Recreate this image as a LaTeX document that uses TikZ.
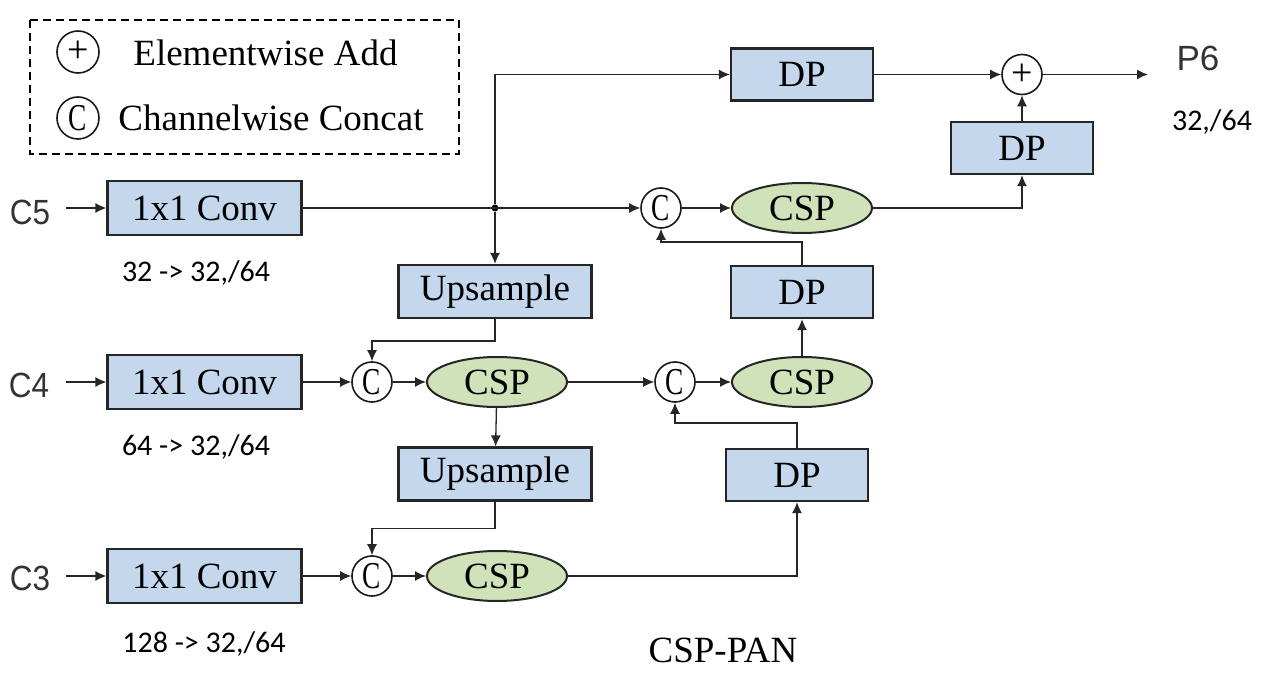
\documentclass[tikz,border=0pt]{standalone}
\usepackage{fontspec}
\setmainfont{Liberation Serif}
\newfontfamily\carl{Carlito}
\newfontfamily\arialf{Liberation Sans}
\usetikzlibrary{shapes.geometric,arrows.meta}
\definecolor{boxblue}{RGB}{196,215,237}
\definecolor{cspgreen}{RGB}{207,226,186}
\newcommand{\cglyph}{\scalebox{0.72}[1]{C}}
\newcommand{\narrowlab}[1]{\scalebox{0.9}[1]{#1}}
\tikzset{
  blk/.style={draw=black!85, line width=1.1pt, fill=boxblue, inner sep=0pt, font=\fontsize{18.5}{22}\selectfont},
  convbox/.style={blk, minimum width=97pt, minimum height=27pt},
  dpbox/.style={blk, minimum width=71pt, minimum height=26pt},
  upbox/.style={blk, minimum width=96.5pt, minimum height=26.5pt},
  cspnode/.style={ellipse, draw=black!85, line width=1pt, fill=cspgreen, inner sep=0pt, minimum width=70pt, minimum height=25pt, font=\fontsize{18.5}{22}\selectfont},
  opcirc/.style={circle, draw=black!90, line width=0.8pt, fill=white, inner sep=0pt, minimum size=20pt, font=\fontsize{19}{20}\selectfont},
  arr/.style={-{Latex[length=5.5pt,width=5pt]}, line width=0.65pt, draw=black!85},
  inlab/.style={font=\arialf\fontsize{17.5}{20}\selectfont, text=black!80},
  dimlab/.style={font=\carl\fontsize{15}{18}\selectfont},
  serlab/.style={font=\fontsize{18.5}{22}\selectfont}
}
\begin{document}
\begin{tikzpicture}[x=0.5pt,y=-0.5pt]
\useasboundingbox (0,0) rectangle (1271,679);
% legend
\draw[line width=0.8pt, dash pattern=on 4pt off 2.5pt] (30,20) rectangle (459,154);
\node[opcirc, minimum size=21pt] (lplus) at (78,52) {+};
\node[opcirc, minimum size=21pt] (lconc) at (78,118) {\cglyph};
\node[serlab, anchor=west, inner sep=0pt] (ladd) at (133,53) {Elementwise Add};
\node[serlab, anchor=west, inner sep=0pt] (lcat) at (118,118) {Channelwise Concat};

% inputs
\node[inlab] (c5l) at (30,212) {\narrowlab{C5}};
\node[inlab] (c4l) at (29,385) {\narrowlab{C4}};
\node[inlab] (c3l) at (30,578) {\narrowlab{C3}};
\coordinate (in5) at (66,208);
\coordinate (in4) at (66,382);
\coordinate (in3) at (66,576);

% conv boxes
\node[convbox] (conv5) at (204.5,208) {1x1 Conv};
\node[convbox] (conv4) at (204.5,382) {1x1 Conv};
\node[convbox] (conv3) at (204.5,576) {1x1 Conv};
\node[dimlab] (d5) at (196,273) {32 -> 32,/64};
\node[dimlab] (d4) at (196,447) {64 -> 32,/64};
\node[dimlab] (d3) at (204,644) {128 -> 32,/64};

% upsample
\node[upbox] (up1) at (495,291.5) {Upsample};
\node[upbox] (up2) at (495,474) {Upsample};

% concats and csps
\node[opcirc] (c4c) at (372,382) {\cglyph};
\node[opcirc] (c3c) at (372,576) {\cglyph};
\node[cspnode] (csp4) at (497,382) {CSP};
\node[cspnode] (csp3) at (497,576) {CSP};
\node[opcirc] (cM) at (675,382) {\cglyph};
\node[opcirc] (cT) at (661,208) {\cglyph};
\node[cspnode] (cspM) at (802,382) {CSP};
\node[cspnode] (cspT) at (802,208) {CSP};

% DPs
\node[dpbox] (dpT) at (802,74.5) {DP};
\node[dpbox] (dpR) at (1022,148) {DP};
\node[dpbox] (dpM) at (802,292) {DP};
\node[dpbox] (dpL) at (797,475) {DP};

% add
\node[opcirc] (plus) at (1022,74.5) {+};
\coordinate (out) at (1148,74.5);
\node[inlab] (p6) at (1198,58) {P6};
\node[dimlab] (p6d) at (1212,122) {32,/64};
\node[serlab] (title) at (723,650) {CSP-PAN};

% junction
\node[circle, fill=black, inner sep=0pt, minimum size=3.5pt] (j) at (495,208) {};

% connectors
\draw[arr] (in5) -- (conv5);
\draw[arr] (in4) -- (conv4);
\draw[arr] (in3) -- (conv3);
\draw[arr] (conv5) -- (cT);
\draw[arr] (j) |- (dpT);
\draw[arr] (j) -- (up1);
\draw[arr] (up1.south) -- ++(0,22) -| (c4c);
\draw[arr] (conv4) -- (c4c);
\draw[arr] (c4c) -- (csp4);
\draw[arr] (csp4) -- (cM);
\draw[arr] (cM) -- (cspM);
\draw[arr] (csp4) -- (up2);
\draw[arr] (up2.south) -- ++(0,27) -| (c3c);
\draw[arr] (conv3) -- (c3c);
\draw[arr] (c3c) -- (csp3);
\draw[arr] (csp3.east) -| (dpL.south);
\draw[arr] (dpL.north) -- ++(0,-25) -| (cM);
\draw[arr] (cspM) -- (dpM);
\draw[arr] (dpM.north) -- ++(0,-23) -| (cT);
\draw[arr] (cT) -- (cspT);
\draw[arr] (cspT.east) -| (dpR.south);
\draw[arr] (dpR) -- (plus);
\draw[arr] (dpT) -- (plus);
\draw[arr] (plus) -- (out);
\end{tikzpicture}
\end{document}
